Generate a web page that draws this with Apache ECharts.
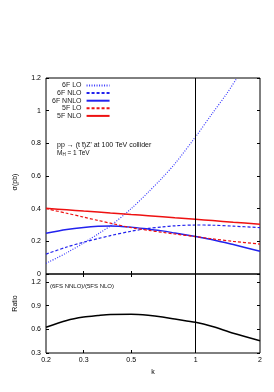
<!DOCTYPE html>
<html>
<head>
<meta charset="utf-8">
<script src="https://cdn.jsdelivr.net/npm/echarts@6/dist/echarts.min.js"></script>
<style>
html,body{margin:0;padding:0;background:#fff;}
#c{width:274px;height:392px;}
</style>
</head>
<body>
<div id="c"></div>
<script>
// ---- data ----
const kValues   = [0.2, 0.25, 0.3, 0.35, 0.4, 0.5, 0.6, 0.7, 0.8, 1, 1.2, 1.5, 2];
const kLO       = [0.2, 0.25, 0.3, 0.35, 0.4, 0.5, 0.6, 0.7, 0.8, 1, 1.2, 1.4, 1.56];
const lo6F      = [0.065, 0.13, 0.19, 0.245, 0.295, 0.40, 0.50, 0.59, 0.675, 0.84, 0.985, 1.105, 1.2];
const nlo6F     = [0.122, 0.165, 0.195, 0.217, 0.235, 0.262, 0.279, 0.288, 0.295, 0.300, 0.299, 0.293, 0.284];
const nnlo6F    = [0.249, 0.272, 0.285, 0.292, 0.294, 0.287, 0.275, 0.264, 0.251, 0.229, 0.21, 0.18, 0.139];
const lo5F      = [0.400, 0.372, 0.348, 0.328, 0.311, 0.284, 0.268, 0.255, 0.245, 0.229, 0.215, 0.200, 0.183];
const nlo5F     = [0.402, 0.393, 0.385, 0.379, 0.373, 0.364, 0.357, 0.350, 0.344, 0.335, 0.327, 0.317, 0.305];
const ratio     = [0.625, 0.712, 0.755, 0.775, 0.788, 0.79, 0.778, 0.757, 0.73, 0.689, 0.635, 0.55, 0.456];
const xTicks    = [0.2, 0.3, 0.5, 1, 2];
const seriesNames = ['6F LO', '6F NLO', '6F NNLO', '5F LO', '5F NLO'];

const pair = (xs, ys) => xs.map((x, i) => [x, ys[i]]);
const FONT = 'Liberation Sans, Arial, sans-serif';
const BLUE = '#2222ee';
const RED = '#ee1111';
const SMOOTH = 0.3;

const chart = echarts.init(document.getElementById('c'), null, {renderer: 'canvas'});

const baseX = (grid, extra) => Object.assign({
  type: 'log', logBase: 10, gridIndex: grid, min: 0.2, max: 2,
  axisLine: {show: false},
  splitLine: {show: false},
  axisTick: {show: true, inside: true, length: 3, lineStyle: {color: '#000', width: 1}, customValues: [0.3, 0.5]},
  axisLabel: {show: false}
}, extra);

const baseY = (grid, min, max, interval, pos, showLabel, extra) => Object.assign({
  type: 'value', gridIndex: grid, min: min, max: max, interval: interval, position: pos,
  axisLine: {show: false},
  splitLine: {show: false},
  axisTick: {show: true, inside: true, length: 3, lineStyle: {color: '#000', width: 1}},
  axisLabel: {show: showLabel, fontSize: 7, fontFamily: FONT, color: '#000', margin: 5}
}, extra);

const option = {
  animation: false,
  backgroundColor: '#fff',
  grid: [
    {left: 46, right: 14, top: 78, height: 196, show: true, borderColor: '#000', borderWidth: 1, backgroundColor: 'transparent'},
    {left: 46, right: 14, top: 274, height: 79, show: true, borderColor: '#000', borderWidth: 1, backgroundColor: 'transparent'}
  ],
  xAxis: [
    baseX(0, {position: 'bottom'}),
    baseX(1, {
      position: 'bottom',
      name: 'k', nameLocation: 'middle', nameGap: 16,
      nameTextStyle: {fontSize: 7, fontFamily: FONT, color: '#000'},
      axisLabel: {show: true, customValues: xTicks, fontSize: 7, fontFamily: FONT, color: '#000', margin: 4,
        formatter: v => String(+(+v).toFixed(2))}
    }),
    baseX(1, {position: 'top'})
  ],
  yAxis: [
    baseY(0, 0, 1.2, 0.2, 'left', true, {
      name: 'σ(pb)', nameLocation: 'middle', nameGap: 27, nameRotate: 90,
      nameTextStyle: {fontSize: 7, fontFamily: FONT, color: '#000', padding: [0, 12, 0, 0]}
    }),
    baseY(0, 0, 1.2, 0.2, 'right', false),
    baseY(1, 0.3, 1.3, 0.3, 'left', true, {
      axisLabel: {show: true, showMaxLabel: false, fontSize: 7, fontFamily: FONT, color: '#000', margin: 5},
      name: 'Ratio', nameLocation: 'middle', nameGap: 27, nameRotate: 90,
      nameTextStyle: {fontSize: 7, fontFamily: FONT, color: '#000', padding: [0, 0, 0, 20]}
    }),
    baseY(1, 0.3, 1.3, 0.3, 'right', false)
  ],
  legend: {
    orient: 'vertical', left: 47, top: 77,
    align: 'right', itemWidth: 23, itemHeight: 7, itemGap: 0.6,
    data: seriesNames,
    itemStyle: {opacity: 0, borderWidth: 0, color: 'rgba(0,0,0,0)'},
    textStyle: {fontSize: 7, fontFamily: FONT, color: '#222', lineHeight: 7}
  },
  graphic: [
    {type: 'text', left: 57, top: 142, style: {text: "pp \u2192 (t t\u0304)Z' at 100 TeV collider", font: '7px ' + FONT, fill: '#111'}},
    {type: 'text', left: 57, top: 150, style: {text: 'M{sub|H} = 1 TeV', font: '6.5px ' + FONT, fill: '#111',
      rich: {sub: {fontSize: 4.5, fontFamily: FONT, fill: '#111', padding: [3, 0, 0, 0]}}}},
    {type: 'text', left: 50, top: 283, style: {text: '(6FS NNLO)/(5FS NLO)', font: '6px ' + FONT, fill: '#111'}}
  ],
  series: [
    {name: '6F LO', type: 'line', xAxisIndex: 0, yAxisIndex: 0, data: pair(kLO, lo6F), smooth: SMOOTH,
      showSymbol: false, symbol: 'none', clip: true, color: '#3a3aff', lineStyle: {color: '#3a3aff', width: 1.2, type: [1, 1.5]}},
    {name: '6F NLO', type: 'line', xAxisIndex: 0, yAxisIndex: 0, data: pair(kValues, nlo6F), smooth: SMOOTH,
      showSymbol: false, symbol: 'none', color: BLUE, lineStyle: {color: BLUE, width: 1.2, type: [3, 2]}},
    {name: '6F NNLO', type: 'line', xAxisIndex: 0, yAxisIndex: 0, data: pair(kValues, nnlo6F), smooth: SMOOTH,
      showSymbol: false, symbol: 'none', color: BLUE, lineStyle: {color: BLUE, width: 1.5},
      markLine: {silent: true, symbol: 'none', label: {show: false}, lineStyle: {color: '#000', width: 1, type: 'solid'}, data: [{xAxis: 1}]}},
    {name: '5F LO', type: 'line', xAxisIndex: 0, yAxisIndex: 0, data: pair(kValues, lo5F), smooth: SMOOTH,
      showSymbol: false, symbol: 'none', color: RED, lineStyle: {color: RED, width: 1.2, type: [3, 2]}},
    {name: '5F NLO', type: 'line', xAxisIndex: 0, yAxisIndex: 0, data: pair(kValues, nlo5F), smooth: SMOOTH,
      showSymbol: false, symbol: 'none', color: RED, lineStyle: {color: RED, width: 1.5}},
    {name: 'ratio', type: 'line', xAxisIndex: 1, yAxisIndex: 2, data: pair(kValues, ratio), smooth: SMOOTH,
      showSymbol: false, symbol: 'none', color: '#000', lineStyle: {color: '#000', width: 1.5},
      markLine: {silent: true, symbol: 'none', label: {show: false}, lineStyle: {color: '#000', width: 1, type: 'solid'}, data: [{xAxis: 1}]}}
  ]
};
chart.setOption(option);
</script>
</body>
</html>
